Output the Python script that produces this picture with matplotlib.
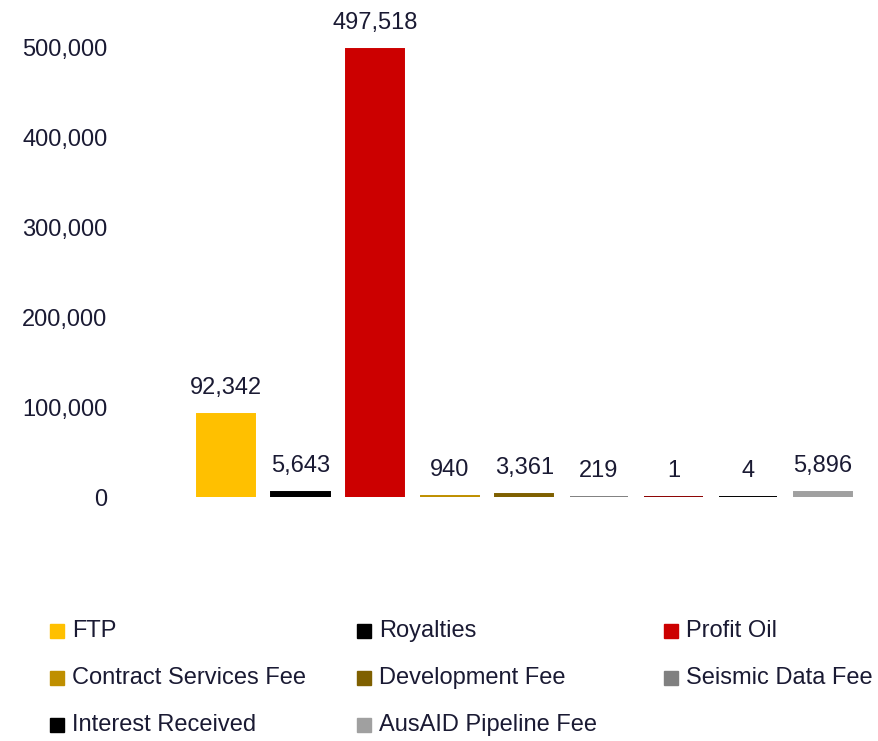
import matplotlib.pyplot as plt
from matplotlib.patches import Rectangle

plt.rcParams['font.family'] = ['Liberation Sans', 'DejaVu Sans']
TXT = '#1a1a33'

# ===== data =====
bar_values = [92342, 5643, 497518, 940, 3361, 219, 1, 4, 5896]
bar_colors = ['#FFC000', '#000000', '#CC0000', '#BF8F00', '#7F6000',
              '#808080', '#8B0000', '#000000', '#A0A0A0']
legend_names = ['FTP', 'Royalties', 'Profit Oil', 'Contract Services Fee',
                'Development Fee', 'Seismic Data Fee', 'Interest Received',
                'AusAID Pipeline Fee']
legend_colors = ['#FFC000', '#000000', '#CC0000', '#BF8F00', '#7F6000',
                 '#808080', '#000000', '#A0A0A0']
yticks = [0, 100000, 200000, 300000, 400000, 500000]

W, H = 879, 741
fig = plt.figure(figsize=(W / 100, H / 100), dpi=100)
ax = fig.add_axes([0.1365, 0.329, 0.842, 0.6437])

x = list(range(len(bar_values)))
ax.bar(x, bar_values, width=0.78, color=bar_colors, edgecolor=bar_colors, linewidth=1.4)
for xi, v in zip(x, bar_values):
    ax.text(xi, v + 17000, f'{v:,}', ha='center', va='bottom', fontsize=17, color=TXT)

ax.set_xlim(-1.42, 8.5)
ax.set_ylim(0, 530000)
ax.set_yticks(yticks)
ax.set_yticklabels([f'{t:,}' for t in yticks], fontsize=17, color=TXT)
ax.set_xticks([])
ax.tick_params(axis='y', length=0, pad=9)
for s in ax.spines.values():
    s.set_visible(False)

# ===== legend (drawn by hand, row-major, 3 columns) =====
col_x = [50, 357, 664]
row_y = [631, 678, 725]
for i, (name, c) in enumerate(zip(legend_names, legend_colors)):
    px = col_x[i % 3]
    py = row_y[i // 3]
    fig.add_artist(Rectangle((px / W, (H - py - 7) / H), 14 / W, 14 / H,
                             transform=fig.transFigure, color=c))
    fig.text((px + 22) / W, (H - py) / H, name, fontsize=17, color=TXT,
             ha='left', va='center')

fig.savefig('out.png', dpi=100)
